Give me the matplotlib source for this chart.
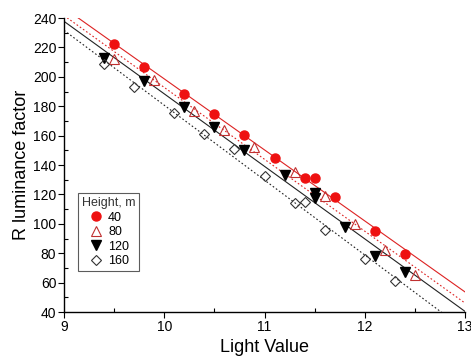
import numpy as np
import matplotlib
matplotlib.use("Agg")
import matplotlib.pyplot as plt
from matplotlib.ticker import MultipleLocator

plt.rcParams['font.family'] = ['Liberation Sans', 'DejaVu Sans']

x40 = [9.5, 9.8, 10.2, 10.5, 10.8, 11.1, 11.4, 11.5, 11.7, 12.1, 12.4]
y40 = [222, 207, 188.5, 174.5, 160.5, 145, 131.5, 131.5, 118, 95, 79.5]

x80 = [9.5, 9.9, 10.3, 10.6, 10.9, 11.3, 11.6, 11.9, 12.2, 12.5]
y80 = [212, 198, 177, 164, 152.5, 135, 119, 100, 82, 65]

x120 = [9.4, 9.8, 10.2, 10.5, 10.8, 11.2, 11.5, 11.5, 11.8, 12.1, 12.4]
y120 = [213, 197, 179.5, 166, 150, 133, 121, 117.5, 98, 78, 67]

x160 = [9.4, 9.7, 10.1, 10.4, 10.7, 11.0, 11.3, 11.4, 11.6, 12.0, 12.3]
y160 = [208.5, 193, 175.5, 161, 151, 132.5, 114, 114.5, 96, 76, 61]

labels = ['40', '80', '120', '160']
xticks = [9, 10, 11, 12, 13]
yticks = [40, 60, 80, 100, 120, 140, 160, 180, 200, 220, 240]

fig = plt.figure(figsize=(4.71, 3.6), dpi=100)
ax = fig.add_axes([0.1359, 0.1333, 0.8514, 0.8167])

series = [
    (x40, y40, dict(marker='o', color='#ee1111', mfc='#ee1111', mec='#ee1111', ms=6.5),
     dict(color='#dd2222', ls='-', lw=0.8)),
    (x80, y80, dict(marker='^', color='#c03030', mfc='none', mec='#c03030', ms=7, mew=0.8),
     dict(color='#dd2222', ls=(0, (1.5, 2.0)), lw=0.8)),
    (x120, y120, dict(marker='v', color='black', mfc='black', mec='black', ms=7),
     dict(color='#222222', ls='-', lw=0.8)),
    (x160, y160, dict(marker='D', color='#333333', mfc='none', mec='#333333', ms=5.5, mew=0.8),
     dict(color='#222222', ls=(0, (1.5, 2.0)), lw=0.8)),
]

xl = np.array([9.0, 13.0])
for (xs, ys, mkw, lkw), lab in zip(series, labels):
    k, b = np.polyfit(xs, ys, 1)
    ax.plot(xl, k * xl + b, zorder=1, **lkw)
    ax.plot(xs, ys, ls='none', label=lab, zorder=3, **mkw)

ax.set_xlim(9, 13)
ax.set_ylim(40, 240)
ax.set_xticks(xticks)
ax.set_yticks(yticks)
ax.xaxis.set_minor_locator(MultipleLocator(0.5))
ax.yaxis.set_minor_locator(MultipleLocator(10))
ax.tick_params(which='major', direction='out', length=4, width=0.8, labelsize=10, pad=1.5)
ax.tick_params(which='minor', direction='in', length=3, width=0.8)
ax.spines['top'].set_visible(False)
ax.spines['right'].set_visible(False)
for s in ['left', 'bottom']:
    ax.spines[s].set_linewidth(1.0)

ax.set_xlabel('Light Value', fontsize=13, labelpad=4)
ax.set_ylabel('R luminance factor', fontsize=13, labelpad=2)

leg = ax.legend(title='Height, m', loc='lower left', bbox_to_anchor=(0.035, 0.14),
                fontsize=9, title_fontsize=9, frameon=True, fancybox=False,
                edgecolor='#333333', handletextpad=0.4, borderpad=0.3,
                labelspacing=0.2, handlelength=1.2, borderaxespad=0)
leg.get_frame().set_linewidth(0.8)
leg.get_title().set_color('#333333')

fig.savefig('out.png', dpi=100)
